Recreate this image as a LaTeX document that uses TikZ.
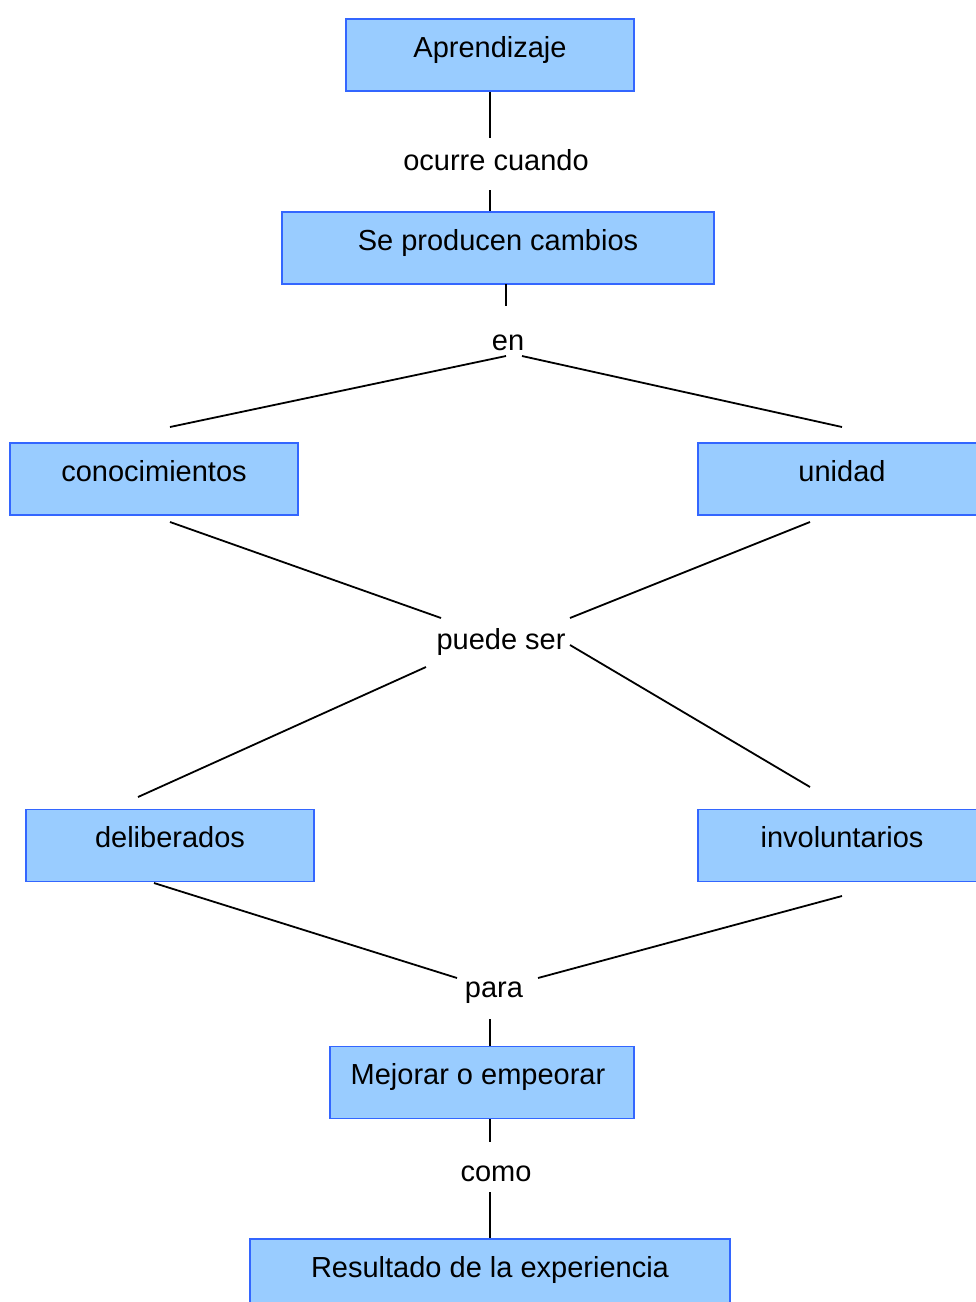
\documentclass[tikz,border=0pt]{standalone}
\usepackage{fontspec}
\setmainfont{Liberation Sans}
\definecolor{boxfill}{RGB}{153,204,255}
\definecolor{boxline}{RGB}{51,102,255}
\tikzset{
  cbox/.style={draw=boxline, fill=boxfill, line width=1.6pt, minimum height=72pt,
    inner sep=0pt, text height=21pt, text depth=17pt, font=\fontsize{29}{34}\selectfont},
  lnk/.style={inner sep=0pt, font=\fontsize{29}{34}\selectfont, text height=21pt, text depth=6pt},
  con/.style={draw=black, line width=1.8pt}
}
\begin{document}
\begin{tikzpicture}[x=1pt,y=-1pt]
\useasboundingbox (0,0) rectangle (976,1302);
\clip (0,0) rectangle (976,1302);
% boxes
\node[cbox, minimum width=288pt] (apr) at (490,55) {Aprendizaje};
\node[cbox, minimum width=432pt] (cam) at (498,248) {Se producen cambios};
\node[cbox, minimum width=288pt] (con) at (154,479) {conocimientos};
\node[cbox, minimum width=288pt] (uni) at (842,479) {unidad};
\node[cbox, minimum width=288pt] (del) at (170,845.5) {deliberados};
\node[cbox, minimum width=288pt] (inv) at (842,845.5) {involuntarios};
\node[cbox, minimum width=304pt] (mej) at (482,1082.5) {\kern-4pt Mejorar o empeorar\kern4pt};
\node[cbox, minimum width=480pt] (res) at (490,1275) {Resultado de la experiencia};
% link labels
\node[lnk] (ocu) at (496,163) {ocurre cuando};
\node[lnk] (en) at (508,343) {en};
\node[lnk] (pue) at (501,642) {puede ser};
\node[lnk] (par) at (494,990) {para};
\node[lnk] (com) at (496,1174) {como};
% connector end points
\coordinate (c1) at (490,138);
\coordinate (c2) at (490,190);
\coordinate (c3) at (506,284);
\coordinate (c4) at (506,306);
\coordinate (c5) at (506,356);
\coordinate (c6) at (522,356);
\coordinate (c7) at (170,427);
\coordinate (c8) at (842,427);
\coordinate (c9) at (170,522);
\coordinate (c10) at (441,618);
\coordinate (c11) at (810,522);
\coordinate (c12) at (570,618);
\coordinate (c13) at (426,667);
\coordinate (c14) at (138,797);
\coordinate (c15) at (570,645);
\coordinate (c16) at (810,787);
\coordinate (c17) at (154,883);
\coordinate (c18) at (457,978);
\coordinate (c19) at (842,896);
\coordinate (c20) at (538,978);
\coordinate (c21) at (490,1019);
\coordinate (c22) at (490,1118);
\coordinate (c23) at (490,1142);
\coordinate (c24) at (490,1192);
% connectors
\draw[con] (apr.south -| c1) -- (c1);
\draw[con] (c2) -- (cam.north -| c2);
\draw[con] (c3) -- (c4);
\draw[con] (c5) -- (c7);
\draw[con] (c6) -- (c8);
\draw[con] (c9) -- (c10);
\draw[con] (c11) -- (c12);
\draw[con] (c13) -- (c14);
\draw[con] (c15) -- (c16);
\draw[con] (c17) -- (c18);
\draw[con] (c19) -- (c20);
\draw[con] (c21) -- (mej.north -| c21);
\draw[con] (mej.south -| c22) -- (c23);
\draw[con] (c24) -- (res.north -| c24);
\end{tikzpicture}
\end{document}
